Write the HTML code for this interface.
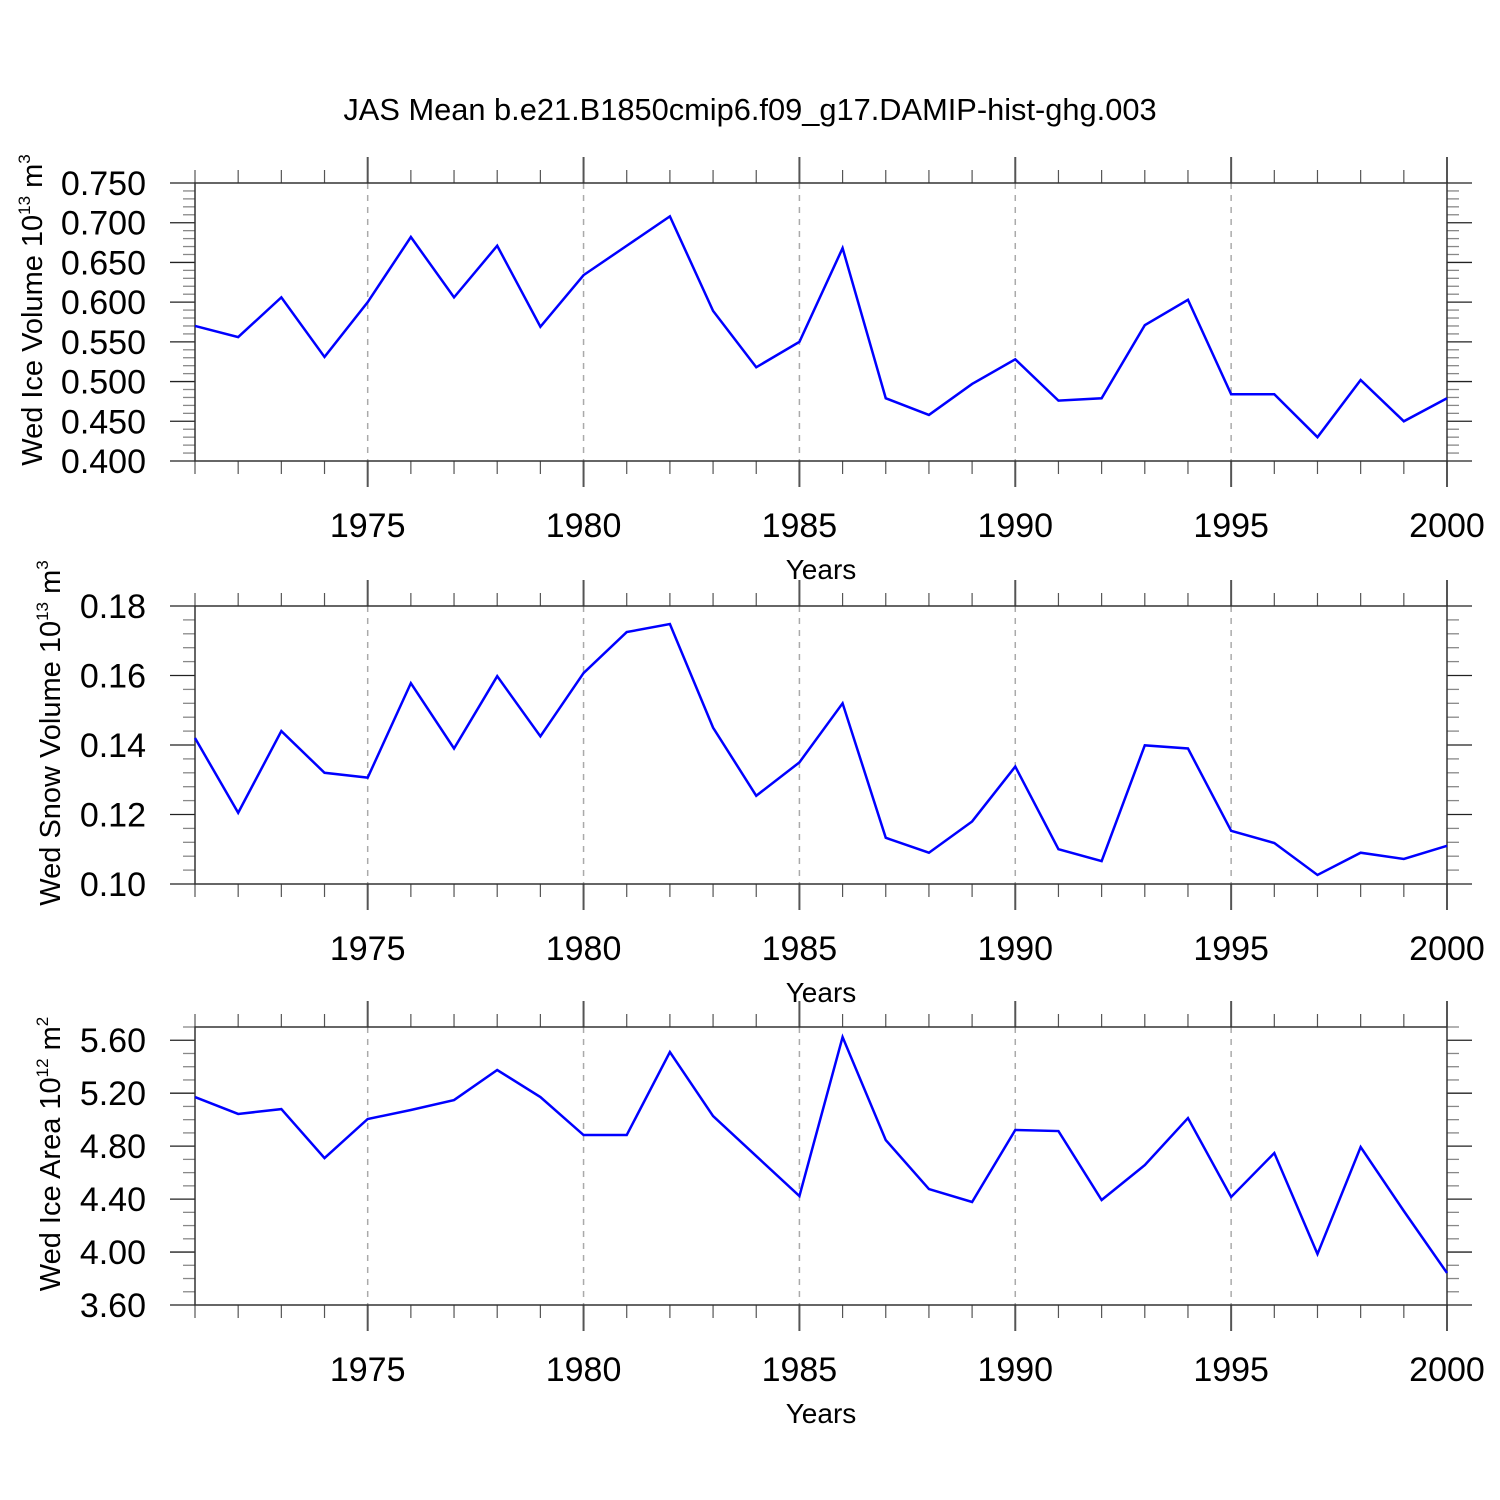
<!DOCTYPE html>
<html><head><meta charset="utf-8"><style>
html,body{margin:0;padding:0;background:#fff;}
svg{display:block;font-family:"Liberation Sans",sans-serif;}
</style></head><body>
<svg id="chart" width="1500" height="1500" viewBox="0 0 1500 1500" xmlns="http://www.w3.org/2000/svg">
<text x="750" y="120" font-size="30.8" text-anchor="middle">JAS Mean b.e21.B1850cmip6.f09_g17.DAMIP-hist-ghg.003</text>
</svg>
<script>
const years = [1971,1972,1973,1974,1975,1976,1977,1978,1979,1980,1981,1982,1983,1984,1985,1986,1987,1988,1989,1990,1991,1992,1993,1994,1995,1996,1997,1998,1999,2000];
const iceVolume = [0.570,0.556,0.606,0.531,0.600,0.682,0.606,0.671,0.569,0.634,0.671,0.708,0.589,0.518,0.550,0.668,0.479,0.458,0.497,0.528,0.476,0.479,0.571,0.603,0.484,0.484,0.430,0.502,0.450,0.479];
const snowVolume = [0.142,0.1205,0.144,0.132,0.1306,0.1578,0.139,0.1598,0.1425,0.1607,0.1725,0.1748,0.145,0.1254,0.135,0.152,0.1133,0.109,0.118,0.1338,0.110,0.1066,0.1399,0.139,0.1153,0.1118,0.1026,0.109,0.1072,0.111];
const iceArea = [5.171,5.043,5.080,4.710,5.005,5.073,5.148,5.375,5.171,4.884,4.884,5.511,5.027,4.725,4.423,5.624,4.846,4.476,4.378,4.922,4.914,4.393,4.657,5.012,4.416,4.748,3.985,4.793,4.310,3.842];
const xTickLabels = [1975,1980,1985,1990,1995,2000];
const iceVolTicks = ["0.400","0.450","0.500","0.550","0.600","0.650","0.700","0.750"];
const snowVolTicks = ["0.10","0.12","0.14","0.16","0.18"];
const iceAreaTicks = ["3.60","4.00","4.40","4.80","5.20","5.60"];

const NS="http://www.w3.org/2000/svg";
const svg=document.getElementById('chart');
function mk(tag,attrs,parent){const e=document.createElementNS(NS,tag);for(const k in attrs)e.setAttribute(k,attrs[k]);(parent||svg).appendChild(e);return e;}
const X0=195,X1=1447,H=278;
const xs=y=>X0+(y-1971)*(X1-X0)/(2000-1971);

function panel(cfg){
  const g=mk('g',{});
  
  
  const top=cfg.top,bot=top+H;
  const ys=v=>bot-(v-cfg.min)*H/(cfg.max-cfg.min);
  for(const yr of [1975,1980,1985,1990,1995]){
    const l=mk('line',{x1:xs(yr),x2:xs(yr),y1:top,y2:bot,stroke:'#aaa','stroke-width':1.5,'stroke-dasharray':'6,6'},g);
    
    
  }
  for(let yr=1971;yr<=2000;yr++){
    const major=yr%5===0, len=major?26:13, x=xs(yr);
    mk('line',{x1:x,x2:x,y1:top-len,y2:top,stroke:'#555','stroke-width':major?2:1.2},g);
    mk('line',{x1:x,x2:x,y1:bot,y2:bot+len,stroke:'#555','stroke-width':major?2:1.2},g);
  }
  for(let v=cfg.min;v<=cfg.max+1e-9;v+=cfg.minor){
    const y=ys(v);
    const major=Math.abs((v-cfg.min)/cfg.major-Math.round((v-cfg.min)/cfg.major))<1e-6;
    const len=major?25:12;
    mk('line',{x1:X0-len,x2:X0,y1:y,y2:y,stroke:major?'#222':'#888','stroke-width':1.3},g);
    mk('line',{x1:X1,x2:X1+len,y1:y,y2:y,stroke:major?'#222':'#888','stroke-width':1.3},g);
  }
  const f=mk('rect',{x:X0,y:top,width:X1-X0,height:H,fill:'none',stroke:'#333','stroke-width':1.5},g);
  
  
  cfg.ticks.forEach((t,i)=>{
    const tx=mk('text',{x:146,y:ys(cfg.min+i*cfg.major)+12,'font-size':34,'text-anchor':'end'},g);
    tx.textContent=t;
    
    
  });
  xTickLabels.forEach(yr=>{
    const tx=mk('text',{x:xs(yr),y:bot+76,'font-size':34,'text-anchor':'middle'},g);
    tx.textContent=yr;
    
    
  });
  const xt=mk('text',{x:821,y:bot+118,'font-size':28,'text-anchor':'middle'},g);
  xt.textContent='Years';
  
  
  const yt=mk('text',{transform:`translate(${cfg.tx},${top+H/2-12}) rotate(-90)`,'font-size':29,'text-anchor':'middle'},g);
  
  
  const t1=mk('tspan',{},yt);t1.textContent=cfg.title+' 10';
  const t2=mk('tspan',{dy:-12,'font-size':17},yt);t2.textContent=cfg.exp;
  const t3=mk('tspan',{dy:12},yt);t3.textContent=' m';
  const t4=mk('tspan',{dy:-12,'font-size':17},yt);t4.textContent=cfg.unit;
  const pts=years.map((yr,i)=>xs(yr)+','+ys(cfg.data[i])).join(' ');
  const pl=mk('polyline',{points:pts,fill:'none',stroke:'#0000ff','stroke-width':2.5,'stroke-linejoin':'miter'},g);
  
  
}
panel({name:'ice-volume-panel',top:183,min:0.4,max:0.75,major:0.05,minor:0.01,ticks:iceVolTicks,data:iceVolume,title:'Wed Ice Volume',exp:'13',unit:'3',tx:42});
panel({name:'snow-volume-panel',top:606,min:0.10,max:0.18,major:0.02,minor:0.004,ticks:snowVolTicks,data:snowVolume,title:'Wed Snow Volume',exp:'13',unit:'3',tx:60});
panel({name:'ice-area-panel',top:1027,min:3.6,max:5.7,major:0.4,minor:0.1,ticks:iceAreaTicks,data:iceArea,title:'Wed Ice Area',exp:'12',unit:'2',tx:60});
</script>
</body></html>
